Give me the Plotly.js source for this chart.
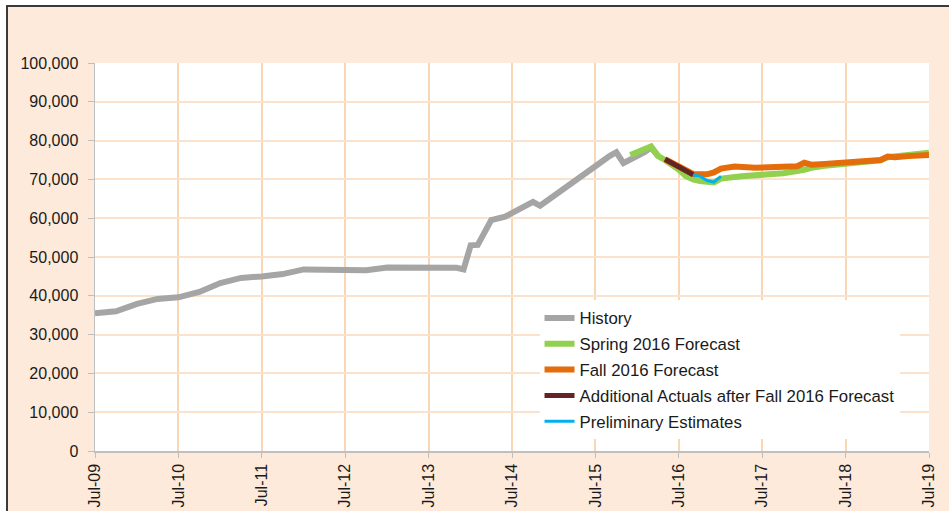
<!DOCTYPE html>
<html>
<head>
<meta charset="utf-8">
<script src="https://cdn.plot.ly/plotly-3.0.1.min.js"></script>
<style>
html,body{margin:0;padding:0;background:#ffffff;}
#frame{position:absolute;left:6px;top:5px;width:943px;height:506px;border-left:2px solid #3a3a3a;border-top:2px solid #3a3a3a;box-sizing:border-box;background:#FDEADA;}
#chart{position:absolute;left:0;top:0;width:941px;height:504px;}
</style>
</head>
<body>
<div id="frame"><div id="chart"></div></div>
<script>
// History (month, value)
var histDates = ["2009-07-01","2009-10-01","2010-01-01","2010-04-01","2010-07-01","2010-10-01","2011-01-01","2011-04-01","2011-07-01","2011-10-01","2012-01-01","2012-04-01","2012-07-01","2012-10-01","2013-01-01","2013-04-01","2013-07-01","2013-10-01","2013-11-01","2013-12-01","2014-01-01","2014-02-01","2014-03-01","2014-04-01","2014-06-01","2014-07-01","2014-09-01","2014-10-01","2014-11-01","2015-01-01","2015-04-01","2015-06-01","2015-07-01","2015-09-01","2015-10-01","2015-11-01","2015-12-01","2016-02-01","2016-03-01","2016-04-01"];
var histValues = [35500,36000,37900,39200,39600,41000,43300,44600,45000,45600,46800,46800,46800,46600,47300,47300,47200,47100,47200,46800,53000,53100,56500,59500,60400,61300,63500,64200,63200,65800,70000,72400,73400,76000,77000,74200,75000,77000,78200,76000];

var springDates = ["2015-12-01","2016-03-01","2016-04-01","2016-05-01","2016-07-01","2016-08-01","2016-09-01","2016-10-01","2016-12-01","2017-01-01","2017-04-01","2017-07-01","2017-10-01","2018-01-01","2018-02-01","2018-04-01","2018-07-01","2018-10-01","2018-12-01","2019-01-01","2019-04-01","2019-07-01"];
var springValues = [76300,78500,76000,75000,72500,70800,70000,69600,69200,70200,70800,71200,71600,72500,73000,73500,73900,74400,74900,75700,76300,76900];

var fallDates = ["2016-05-01","2016-09-01","2016-11-01","2016-12-01","2017-01-01","2017-03-01","2017-06-01","2017-10-01","2017-12-01","2018-01-01","2018-02-01","2018-04-01","2018-07-01","2018-10-01","2018-12-01","2019-01-01","2019-02-01","2019-04-01","2019-07-01"];
var fallValues = [75200,71400,71300,71800,72800,73300,73000,73200,73400,74300,73800,74000,74300,74800,75000,75900,75700,76000,76300];

var actualDates = ["2016-05-01","2016-06-01","2016-07-01","2016-08-01","2016-09-01"];
var actualValues = [75200,74200,73200,72200,71200];

var prelimDates = ["2016-09-01","2016-10-01","2016-11-01","2016-12-01","2017-01-01"];
var prelimValues = [71100,70800,69700,69300,70800];

var tickDates = ["2009-07-01","2010-07-01","2011-07-01","2012-07-01","2013-07-01","2014-07-01","2015-07-01","2016-07-01","2017-07-01","2018-07-01","2019-07-01"];
var tickLabels = ["Jul-09","Jul-10","Jul-11","Jul-12","Jul-13","Jul-14","Jul-15","Jul-16","Jul-17","Jul-18","Jul-19"];

function tr(name, x, y, color, width, grp){
  return {type:"scatter", mode:"lines", name:name, x:x, y:y, legendgroup:grp,
    line:{color:color, width:width}, hoverinfo:"skip"};
}
var data = [
  tr("History", histDates, histValues, "#A5A5A5", 6, "g1"),
  tr("Spring 2016 Forecast", springDates, springValues, "#92D050", 6, "g2"),
  tr("Fall 2016 Forecast", fallDates, fallValues, "#E46C0A", 6, "g3"),
  tr("Additional Actuals after Fall 2016 Forecast", actualDates, actualValues, "#632523", 5, "g4"),
  tr("Preliminary Estimates", prelimDates, prelimValues, "#00B0F0", 3, "g5")
];

var layout = {
  width:941, height:504,
  margin:{l:87, r:20, t:56, b:60},
  paper_bgcolor:"rgba(0,0,0,0)",
  plot_bgcolor:"#ffffff",
  font:{family:"Liberation Sans, Arial, sans-serif", size:16, color:"#1a1a1a"},
  showlegend:true,
  legend:{x:0.533, y:0.388, xanchor:"left", yanchor:"top", bgcolor:"#ffffff",
    font:{size:16.8, color:"#1a1a1a"}, traceorder:"grouped", tracegroupgap:1,
    itemwidth:30},
  xaxis:{type:"date", range:["2009-07-01","2019-07-01"], tickvals:tickDates, ticktext:tickLabels,
    tickangle:-90, showgrid:true, gridcolor:"#F9D6B4", gridwidth:2,
    showline:true, linecolor:"#BFBFBF", linewidth:1.5, ticks:"outside", ticklen:5, tickcolor:"#BFBFBF",
    tickfont:{size:16}, zeroline:false, fixedrange:true},
  yaxis:{range:[0,100000], dtick:10000, tickformat:",", showgrid:true, gridcolor:"#FBE2CC", gridwidth:2,
    showline:true, linecolor:"#BFBFBF", linewidth:1.5, ticks:"outside", ticklen:6, tickcolor:"#BFBFBF",
    ticklabelstandoff:6, tickfont:{size:16}, zeroline:false, fixedrange:true}
};
Plotly.newPlot("chart", data, layout, {displayModeBar:false, staticPlot:true});
</script>
</body>
</html>
